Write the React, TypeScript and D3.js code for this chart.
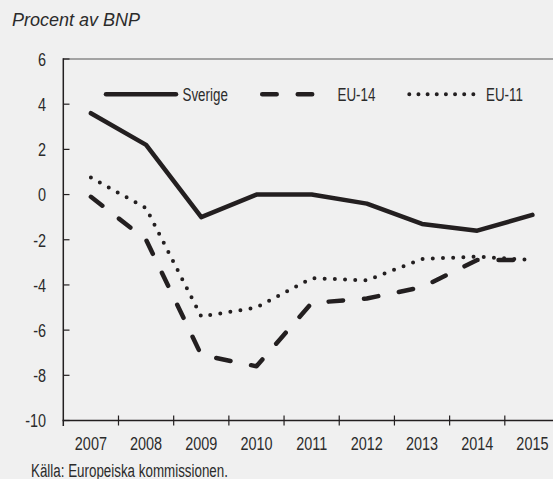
import React from "react";
import * as d3 from "d3";

const years = ["2007", "2008", "2009", "2010", "2011", "2012", "2013", "2014", "2015"];
const sverige = [3.6, 2.2, -1.0, 0.0, 0.0, -0.4, -1.3, -1.6, -0.9];
const eu14 = [-0.1, -2.0, -7.1, -7.6, -4.8, -4.6, -4.1, -2.9, -2.9];
const eu11 = [0.75, -0.6, -5.4, -5.0, -3.7, -3.8, -2.85, -2.75, -2.9];
const yTicks = [6, 4, 2, 0, -2, -4, -6, -8, -10];

const W = 553;
const H = 479;
const INK = "#231f20";
const TXT = "#2b2b2b";
const BG = "#f0f0f0";
const SANS = "'Liberation Sans', Arial, sans-serif";
const SX = 0.76;

function NText(props: {
  x: number;
  y: number;
  size: number;
  anchor?: "start" | "middle" | "end";
  dy?: string;
  children: React.ReactNode;
}) {
  return (
    <g transform={`translate(${props.x},${props.y}) scale(${SX},1)`}>
      <text
        x={0}
        y={0}
        dy={props.dy}
        textAnchor={props.anchor || "start"}
        fontFamily={SANS}
        fontSize={props.size}
        fill={TXT}
      >
        {props.children}
      </text>
    </g>
  );
}

export default function App() {
  const x = d3.scaleBand<string>().domain(years).range([63.3, 560]).padding(0);
  const y = d3.scaleLinear().domain([-10, 6]).range([420.5, 59]);
  const cx = (d: string) => (x(d) as number) + x.bandwidth() / 2;
  const line = d3
    .line<number>()
    .x((_, i) => cx(years[i]))
    .y((v) => y(v));

  const series = [
    { name: "Sverige", values: sverige, dash: "none", width: 4.5, legendDash: "none" },
    { name: "EU-14", values: eu14, dash: "14.5 21", width: 4.5, legendDash: "14.5 21" },
    { name: "EU-11", values: eu11, dash: "0 10.2", width: 4, legendDash: "0 9.15" },
  ];

  const legend = [
    { x1: 106, x2: 176, tx: 182.5 },
    { x1: 262.2, x2: 313, tx: 337.5 },
    { x1: 409.3, x2: 474, tx: 486 },
  ];

  return (
    <svg
      width={W}
      height={H}
      style={{ position: "absolute", left: 0, top: 0, background: BG }}
    >
      <rect x={0} y={0} width={W} height={H} fill={BG} />
      <text x={12} y={26} fontFamily={SANS} fontStyle="italic" fontSize={18} fill={TXT}>
        Procent av BNP
      </text>

      {/* top frame line */}
      <line x1={63.3} x2={W} y1={y(6)} y2={y(6)} stroke="#8a8a8a" strokeWidth={1.5} />

      {/* y axis */}
      <line x1={63.3} x2={63.3} y1={y(6) - 0.7} y2={426} stroke={INK} strokeWidth={1.5} />
      {yTicks.map((t) => (
        <g key={t}>
          <line x1={63.3} x2={69.5} y1={y(t)} y2={y(t)} stroke={INK} strokeWidth={1.2} />
          <NText x={46} y={y(t)} dy="0.36em" anchor="end" size={19}>
            {t}
          </NText>
        </g>
      ))}

      {/* x axis */}
      <line x1={62.5} x2={W} y1={y(-10)} y2={y(-10)} stroke={INK} strokeWidth={1.5} />
      {years.slice(1).map((yr) => (
        <line
          key={yr}
          x1={x(yr) as number}
          x2={x(yr) as number}
          y1={y(-10) - 5}
          y2={y(-10) + 5}
          stroke={INK}
          strokeWidth={1.2}
        />
      ))}
      {years.map((yr) => (
        <NText key={yr} x={cx(yr)} y={450} anchor="middle" size={19}>
          {yr}
        </NText>
      ))}

      {/* series */}
      {series.map((s) => (
        <path
          key={s.name}
          d={line(s.values) as string}
          fill="none"
          stroke={INK}
          strokeWidth={s.width}
          strokeDasharray={s.dash}
          strokeLinecap="round"
          strokeLinejoin="round"
        />
      ))}

      {/* legend */}
      {series.map((s, i) => (
        <g key={s.name}>
          <line
            x1={legend[i].x1}
            x2={legend[i].x2}
            y1={94.3}
            y2={94.3}
            stroke={INK}
            strokeWidth={s.width}
            strokeDasharray={s.legendDash}
            strokeLinecap="round"
          />
          <NText x={legend[i].tx} y={94.3} dy="0.36em" size={17.6}>
            {s.name}
          </NText>
        </g>
      ))}

      <NText x={31} y={476.5} size={17.6}>
        Källa: Europeiska kommissionen.
      </NText>
    </svg>
  );
}
